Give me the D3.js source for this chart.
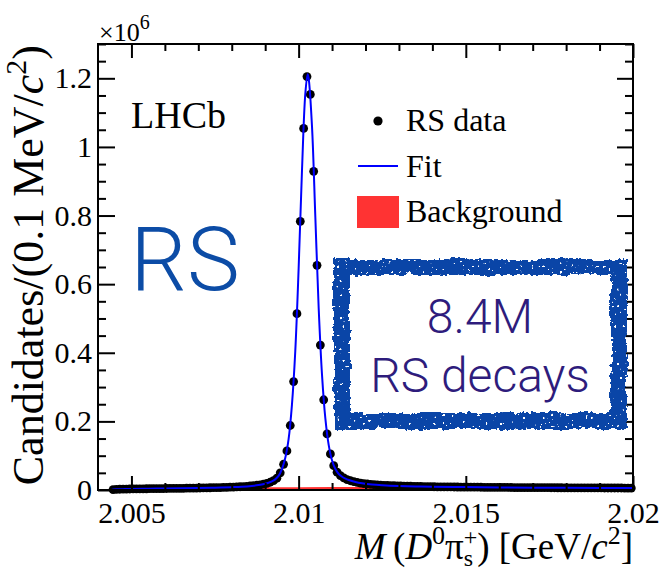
<!DOCTYPE html>
<html>
<head>
<meta charset="utf-8">
<script src="https://cdn.jsdelivr.net/npm/d3@7"></script>
<style>
  html, body { margin: 0; padding: 0; background: #fff; }
  svg { display: block; }
</style>
</head>
<body>
<svg id="chart" width="663" height="570"></svg>
<script>
// D*+ -> D0 pi+ invariant mass spectrum, right-sign candidates per 0.1 MeV bin (in units of 10^6)
const massLow = 2.0044;     // lower edge of the first bin [GeV/c^2]
const binWidth = 0.0001;    // 0.1 MeV

const rsCounts = [
  0.0012, 0.0018, 0.0022, 0.0025, 0.0027, 0.0029, 0.0031, 0.0032, 0.0034, 0.0035,
  0.0036, 0.0038, 0.0039, 0.0040, 0.0041, 0.0042, 0.0044, 0.0045, 0.0046, 0.0048,
  0.0049, 0.0050, 0.0052, 0.0054, 0.0055, 0.0057, 0.0059, 0.0061, 0.0063, 0.0065,
  0.0067, 0.0070, 0.0072, 0.0075, 0.0078, 0.0082, 0.0086, 0.0090, 0.0095, 0.0101,
  0.0108, 0.0116, 0.0126, 0.0138, 0.0152, 0.0170, 0.0194, 0.0226, 0.0272, 0.0345,
  0.0500, 0.0750, 0.1140, 0.1880, 0.3160, 0.5140, 0.7830, 1.0540, 1.2050, 1.1530,
  0.9290, 0.6550, 0.4225, 0.2630, 0.1635, 0.1050, 0.0710, 0.0520, 0.0420, 0.0355,
  0.0305, 0.0270, 0.0242, 0.0220, 0.0202, 0.0187, 0.0175, 0.0164, 0.0156, 0.0149,
  0.0143, 0.0137, 0.0132, 0.0128, 0.0124, 0.0120, 0.0117, 0.0114, 0.0111, 0.0109,
  0.0106, 0.0104, 0.0102, 0.0100, 0.0098, 0.0097, 0.0095, 0.0094, 0.0092, 0.0091,
  0.0090, 0.0089, 0.0088, 0.0087, 0.0086, 0.0085, 0.0084, 0.0083, 0.0082, 0.0081,
  0.0080, 0.0079, 0.0078, 0.0077, 0.0077, 0.0076, 0.0075, 0.0074, 0.0074, 0.0073,
  0.0072, 0.0072, 0.0071, 0.0070, 0.0070, 0.0069, 0.0069, 0.0068, 0.0068, 0.0067,
  0.0067, 0.0066, 0.0066, 0.0065, 0.0065, 0.0064, 0.0064, 0.0063, 0.0063, 0.0062,
  0.0062, 0.0062, 0.0061, 0.0061, 0.0060, 0.0060, 0.0060, 0.0059, 0.0059, 0.0059,
  0.0058, 0.0058, 0.0058, 0.0057, 0.0057, 0.0057
];

// total fit model, sampled at knots
const fitMass = [
  2.00441, 2.00445, 2.0046, 2.0048, 2.0050, 2.0055, 2.0060, 2.0065, 2.0070, 2.0075,
  2.0080, 2.0083, 2.0086, 2.0088, 2.0090, 2.0091, 2.0092, 2.0093, 2.0094, 2.0095,
  2.0096, 2.0097, 2.0098, 2.0099, 2.0100, 2.0101, 2.0102, 2.01027, 2.0103, 2.0104,
  2.0105, 2.0106, 2.0107, 2.0108, 2.0109, 2.0110, 2.0111, 2.0112, 2.0113, 2.0114,
  2.0115, 2.0117, 2.0119, 2.0122, 2.0125, 2.0130, 2.0135, 2.0140, 2.0150, 2.0160,
  2.0170, 2.0180, 2.0190, 2.0200
];
const fitCounts = [
  0.0000, 0.0012, 0.0021, 0.0026, 0.0030, 0.0037, 0.0043, 0.0050, 0.0058, 0.0068,
  0.0083, 0.0096, 0.0120, 0.0145, 0.0185, 0.0212, 0.0250, 0.0310, 0.0410, 0.0610,
  0.0930, 0.1480, 0.2480, 0.4050, 0.6450, 0.9300, 1.1550, 1.2120, 1.2000, 1.0600,
  0.7950, 0.5300, 0.3350, 0.2080, 0.1310, 0.0860, 0.0610, 0.0465, 0.0385, 0.0330,
  0.0290, 0.0235, 0.0198, 0.0162, 0.0141, 0.0118, 0.0104, 0.0095, 0.0084, 0.0076,
  0.0069, 0.0064, 0.0060, 0.0057
];

// background component
const bkgMass = [2.00441, 2.0046, 2.0050, 2.0060, 2.0070, 2.0080, 2.0090, 2.0100, 2.0110, 2.0120, 2.0140, 2.0160, 2.0180, 2.0200];
const bkgCounts = [0.0000, 0.0012, 0.0025, 0.0038, 0.0046, 0.0052, 0.0057, 0.0060, 0.0062, 0.0063, 0.0062, 0.0060, 0.0058, 0.0055];

const xTickValues = [2.005, 2.01, 2.015, 2.02];
const xTickLabels = ["2.005", "2.01", "2.015", "2.02"];
const yTickValues = [0, 0.2, 0.4, 0.6, 0.8, 1.0, 1.2];
const yTickLabels = ["0", "0.2", "0.4", "0.6", "0.8", "1", "1.2"];
const legendLabels = ["RS data", "Fit", "Background"];

const serif = "'Liberation Serif', 'Times New Roman', Times, serif";
const sans = "Roboto, 'Liberation Sans', Arial, sans-serif";

const svg = d3.select("#chart");
const frame = { left: 98, right: 633, top: 44, bottom: 490 };

const x = d3.scaleLinear().domain([2.004, 2.02]).range([frame.left, frame.right]);
const y = d3.scaleLinear().domain([0, 1.3]).range([frame.bottom, frame.top]);

// rough marker-pen texture for the annotation box
const defs = svg.append("defs");
const rough = defs.append("filter").attr("id", "rough")
  .attr("x", "-10%").attr("y", "-10%").attr("width", "120%").attr("height", "120%")
  .attr("color-interpolation-filters", "sRGB");
rough.append("feTurbulence").attr("type", "fractalNoise").attr("baseFrequency", 0.04)
  .attr("numOctaves", 1).attr("seed", 2).attr("result", "wobble");
rough.append("feDisplacementMap").attr("in", "SourceGraphic").attr("in2", "wobble")
  .attr("scale", 6).attr("xChannelSelector", "R").attr("yChannelSelector", "G").attr("result", "bent");
rough.append("feTurbulence").attr("type", "fractalNoise").attr("baseFrequency", 0.22)
  .attr("numOctaves", 2).attr("seed", 4).attr("result", "grain");
rough.append("feDisplacementMap").attr("in", "bent").attr("in2", "grain")
  .attr("scale", 5).attr("xChannelSelector", "R").attr("yChannelSelector", "G").attr("result", "frayed");
rough.append("feTurbulence").attr("type", "fractalNoise").attr("baseFrequency", 0.35)
  .attr("numOctaves", 1).attr("seed", 11).attr("result", "speck");
rough.append("feColorMatrix").attr("in", "speck").attr("type", "matrix")
  .attr("values", "0 0 0 0 0  0 0 0 0 0  0 0 0 0 0  0 0 0 -40 28.6").attr("result", "holes");
rough.append("feComposite").attr("in", "frayed").attr("in2", "holes").attr("operator", "in");

// ---- marks ----
const binCenter = i => massLow + (i + 0.5) * binWidth;

// background (red filled area)
svg.append("path")
  .datum(bkgMass.map((m, i) => [m, bkgCounts[i]]))
  .attr("d", d3.area().x(d => x(d[0])).y0(y(0)).y1(d => y(d[1])).curve(d3.curveMonotoneX))
  .attr("fill", "#ff3333").attr("stroke", "#ff3333").attr("stroke-width", 1.5);

// data points
svg.append("g").selectAll("circle")
  .data(rsCounts)
  .join("circle")
  .attr("cx", (d, i) => x(binCenter(i)))
  .attr("cy", d => y(d))
  .attr("r", 4.4)
  .attr("fill", "#000");

// fit curve
svg.append("path")
  .datum(fitMass.map((m, i) => [m, fitCounts[i]]))
  .attr("d", d3.line().x(d => x(d[0])).y(d => y(d[1])).curve(d3.curveCatmullRom.alpha(0.5)))
  .attr("fill", "none").attr("stroke", "#0000ff").attr("stroke-width", 2);

// ---- axes (ticks on all four sides, pointing inward) ----
const xMinor = x.ticks(16).filter(v => !xTickValues.some(t => Math.abs(t - v) < 1e-9) && v > 2.0045);
const yMinor = y.ticks(26).filter(v => !yTickValues.some(t => Math.abs(t - v) < 1e-9) && v > 0);

function styleAxis(g) {
  g.select(".domain").remove();
  g.selectAll(".tick line").attr("stroke", "#000").attr("stroke-width", 2);
  g.selectAll("text").attr("font-family", serif).attr("font-size", 30).attr("fill", "#000");
}

svg.append("g").attr("transform", `translate(0,${frame.bottom})`)
  .call(d3.axisBottom(x).tickValues(xTickValues).tickFormat((d, i) => xTickLabels[i])
    .tickSizeInner(-14).tickSizeOuter(0).tickPadding(12))
  .call(styleAxis);
svg.append("g").attr("transform", `translate(0,${frame.bottom})`)
  .call(d3.axisBottom(x).tickValues(xMinor).tickFormat("").tickSizeInner(-7).tickSizeOuter(0))
  .call(styleAxis);
svg.append("g").attr("transform", `translate(0,${frame.top})`)
  .call(d3.axisTop(x).tickValues(xTickValues).tickFormat("").tickSizeInner(-14).tickSizeOuter(0))
  .call(styleAxis);
svg.append("g").attr("transform", `translate(0,${frame.top})`)
  .call(d3.axisTop(x).tickValues(xMinor).tickFormat("").tickSizeInner(-7).tickSizeOuter(0))
  .call(styleAxis);

svg.append("g").attr("transform", `translate(${frame.left},0)`)
  .call(d3.axisLeft(y).tickValues(yTickValues).tickFormat((d, i) => yTickLabels[i])
    .tickSizeInner(-17).tickSizeOuter(0).tickPadding(6))
  .call(styleAxis);
svg.append("g").attr("transform", `translate(${frame.left},0)`)
  .call(d3.axisLeft(y).tickValues(yMinor).tickFormat("").tickSizeInner(-8).tickSizeOuter(0))
  .call(styleAxis);
svg.append("g").attr("transform", `translate(${frame.right},0)`)
  .call(d3.axisRight(y).tickValues(yTickValues).tickFormat("").tickSizeInner(-16).tickSizeOuter(0))
  .call(styleAxis);
svg.append("g").attr("transform", `translate(${frame.right},0)`)
  .call(d3.axisRight(y).tickValues(yMinor).tickFormat("").tickSizeInner(-8).tickSizeOuter(0))
  .call(styleAxis);

// frame
svg.append("rect")
  .attr("x", frame.left).attr("y", frame.top)
  .attr("width", frame.right - frame.left).attr("height", frame.bottom - frame.top)
  .attr("fill", "none").attr("stroke", "#000").attr("stroke-width", 2);

// exponent label
const expo = svg.append("text").attr("x", 99).attr("y", 41)
  .attr("font-family", serif).attr("fill", "#000");
expo.append("tspan").attr("font-size", 26).text("\u00d710");
expo.append("tspan").attr("font-size", 20).attr("dy", -12).text("6");

// axis titles
const yTitle = svg.append("text")
  .attr("transform", `translate(43,${frame.top + 1}) rotate(-90)`)
  .attr("text-anchor", "end").attr("font-family", serif).attr("font-size", 44).attr("fill", "#000");
yTitle.append("tspan").text("Candidates/(0.1 MeV/");
yTitle.append("tspan").attr("font-style", "italic").text("c");
yTitle.append("tspan").attr("font-size", 30).attr("dy", -17).text("2");
yTitle.append("tspan").attr("dy", 17).text(")");

const xTitle = svg.append("text")
  .attr("x", frame.right).attr("y", 559)
  .attr("text-anchor", "end").attr("font-family", serif).attr("font-size", 37).attr("fill", "#000");
xTitle.append("tspan").attr("font-style", "italic").text("M");
xTitle.append("tspan").text("\u2009(");
xTitle.append("tspan").attr("font-style", "italic").text("D");
xTitle.append("tspan").attr("font-size", 26).attr("dy", -15).text("0");
xTitle.append("tspan").attr("dy", 15).text("\u03c0");
xTitle.append("tspan").attr("font-size", 24).attr("dy", -14).text("+");
xTitle.append("tspan").attr("font-size", 24).attr("dx", -13.5).attr("dy", 21).text("s");
xTitle.append("tspan").attr("dx", 4).attr("dy", -7).text(") [GeV/");
xTitle.append("tspan").attr("font-style", "italic").text("c");
xTitle.append("tspan").attr("font-size", 26).attr("dy", -15).text("2");
xTitle.append("tspan").attr("dy", 15).text("]");

// experiment label
svg.append("text").attr("x", 131).attr("y", 128)
  .attr("font-family", serif).attr("font-size", 38).attr("fill", "#000").text("LHCb");

// legend
const legend = svg.append("g");
legend.append("circle").attr("cx", 378).attr("cy", 121).attr("r", 4.6).attr("fill", "#000");
legend.append("line").attr("x1", 358).attr("x2", 398).attr("y1", 166).attr("y2", 166)
  .attr("stroke", "#0000ff").attr("stroke-width", 2);
legend.append("rect").attr("x", 357).attr("y", 196).attr("width", 42).attr("height", 32)
  .attr("fill", "#ff3333");
legend.selectAll("text").data(legendLabels).join("text")
  .attr("x", 406).attr("y", (d, i) => 131 + i * 45.5)
  .attr("font-family", serif).attr("font-size", 32).attr("fill", "#000")
  .text(d => d);

// large channel tag
svg.append("text").attr("x", 185).attr("y", 290).attr("text-anchor", "middle")
  .attr("font-family", sans).attr("font-weight", 300).attr("font-size", 89)
  .attr("fill", "#0c4ca6").text("RS");

// annotation box with yield
svg.append("rect").attr("x", 342).attr("y", 267).attr("width", 277).attr("height", 154)
  .attr("fill", "none").attr("stroke", "#0a45a7").attr("stroke-width", 16)
  .attr("filter", "url(#rough)");
const note = svg.append("g").attr("font-family", sans).attr("font-weight", 300)
  .attr("fill", "#2e1c7c").attr("text-anchor", "middle");
note.append("text").attr("x", 480).attr("y", 333).attr("font-size", 48).text("8.4M");
note.append("text").attr("x", 480).attr("y", 392).attr("font-size", 48).text("RS decays");
</script>
</body>
</html>
